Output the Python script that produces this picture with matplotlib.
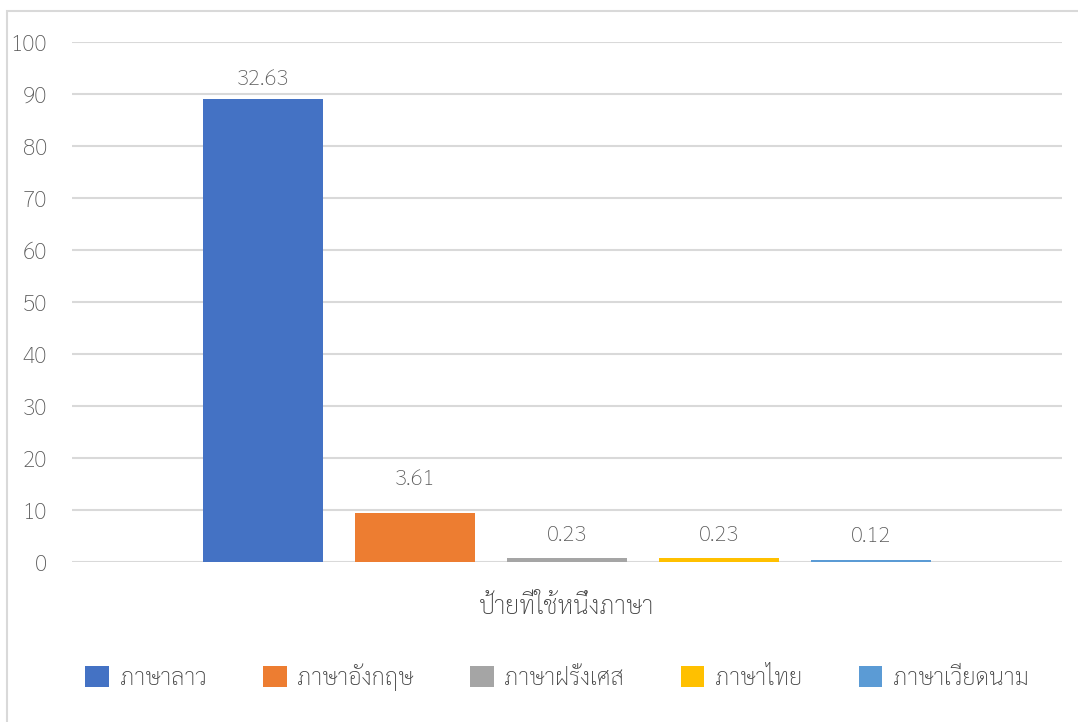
import matplotlib
matplotlib.use("Agg")
import matplotlib.pyplot as plt
from matplotlib.patches import Rectangle, Patch

plt.rcParams["font.family"] = ["Sarabun", "DejaVu Sans"]
plt.rcParams["font.weight"] = "light"
plt.rcParams["axes.labelweight"] = "light"

# data (bar heights; labels as printed on the chart)
languages = ["ภาษาลาว", "ภาษาอังกฤษ", "ภาษาฝรั่งเศส", "ภาษาไทย", "ภาษาเวียดนาม"]
values = [89.0, 9.5, 0.8, 0.8, 0.4]
labels = ["32.63", "3.61", "0.23", "0.23", "0.12"]
category = "ป้ายที่ใช้หนึ่งภาษา"
yticks = [0, 10, 20, 30, 40, 50, 60, 70, 80, 90, 100]

colors = ["#4472C4", "#ED7D31", "#A5A5A5", "#FFC000", "#5B9BD5"]
label_offsets = [14, 24, 16, 16, 17]  # points above bar top
TEXT = "#595959"
GRID = "#D9D9D9"

W, H = 1078, 722
fig = plt.figure(figsize=(W / 100, H / 100), dpi=100)

# chart frame (only left/top edges are visible in the picture)
fig.patches.append(Rectangle((7 / W, -0.01), 1.02, 1 - 11 / H + 0.01,
                             transform=fig.transFigure, fill=False,
                             edgecolor=GRID, linewidth=1.5))

ax = fig.add_axes([72 / W, 1 - 562 / H, 990 / W, 520 / H])
x = list(range(len(values)))
ax.bar(x, values, width=120 / 152, color=colors, zorder=3)
ax.set_xlim(-191 / 152, 4 + 131 / 152 + 60 / 152)
ax.set_ylim(0, 100)
ax.set_yticks(yticks)
ax.set_xticks([])
ax.grid(axis="y", color=GRID, linewidth=1.5, zorder=0)
for s in ax.spines.values():
    s.set_visible(False)
ax.tick_params(axis="y", length=0, pad=18, labelsize=16.5, labelcolor=TEXT)

for xi, v, lab, off in zip(x, values, labels, label_offsets):
    ax.annotate(lab, (xi, v), xytext=(0, off), textcoords="offset points",
                ha="center", va="center", fontsize=16, color=TEXT)

ax.set_xlabel(category, fontsize=18, color="#404040", labelpad=24,
              fontweight="light")

handles = [Patch(facecolor=c, edgecolor="none") for c in colors]
fig.legend(handles, languages, loc="center", bbox_to_anchor=(557 / W, 1 - 677 / H),
           ncol=5, frameon=False, fontsize=17, labelcolor="#404040",
           handlelength=1.0, handleheight=1.0, handletextpad=0.45,
           columnspacing=2.4)

fig.savefig("out.png", dpi=100)
